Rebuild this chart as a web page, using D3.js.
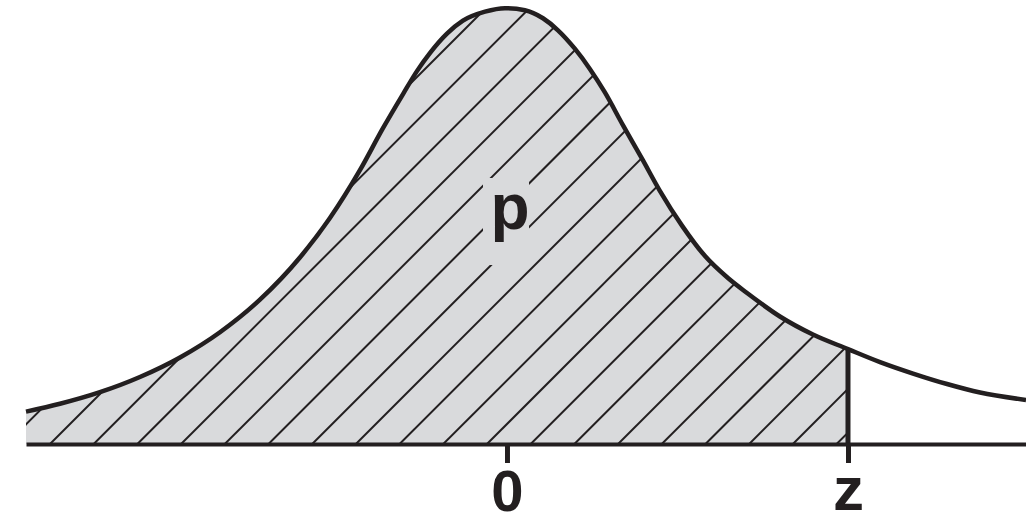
<!DOCTYPE html>
<html>
<head>
<meta charset="utf-8">
<script src="https://cdn.jsdelivr.net/npm/d3@7"></script>
<style>
  html, body { margin: 0; padding: 0; background: #ffffff; }
  svg { display: block; }
</style>
</head>
<body>
<svg id="chart" width="1026" height="515"></svg>
<script>
// Density curve, sampled along the standardized axis
const xValues = [
  -3.526, -3.277, -2.984, -2.691, -2.397, -2.104, -1.811, -1.518, -1.298, -1.078,
  -0.909, -0.762, -0.660, -0.565, -0.440, -0.323, -0.161, -0.015,
   0.132,  0.264,  0.374,  0.499,  0.609,  0.718,  0.850,  0.990,  1.122,  1.283,
   1.452,  1.620,  1.760,  2.001,  2.243,  2.500,  2.735,  2.977,  3.226,  3.468,
   3.805
];
const densityValues = [
  0.0296, 0.0368, 0.0474, 0.0613, 0.0792, 0.1023, 0.1321, 0.1707, 0.2068, 0.2506,
  0.2891, 0.3203, 0.3413, 0.3578, 0.3756, 0.3875, 0.3957, 0.3989,
  0.3971, 0.3897, 0.3787, 0.3616, 0.3431, 0.3218, 0.2919, 0.2612, 0.2315, 0.1999,
  0.1720, 0.1519, 0.1382, 0.1167, 0.1002, 0.0869, 0.0750, 0.0645, 0.0549, 0.0471,
  0.0403
];
// Cut-off value and axis tick labels
const zValue = 2.5;
const tickValues = [0, zValue];
const tickLabels = ["0", "z"];
const areaLabel = "p";

const ink = "#231f20";
const shade = "#d9dadc";

const points = xValues.map((x, i) => ({ x, y: densityValues[i] }));

const svg = d3.select("#chart");

const x = d3.scaleLinear()
  .domain([d3.min(xValues), d3.max(xValues)])
  .range([26, 1026]);
const y = d3.scaleLinear()
  .domain([0, 0.4])
  .range([444, 7]);

const curve = d3.curveMonotoneX;
const area = d3.area().x(d => x(d.x)).y0(y(0)).y1(d => y(d.y)).curve(curve);
const line = d3.line().x(d => x(d.x)).y(d => y(d.y)).curve(curve);

const defs = svg.append("defs");
defs.append("clipPath").attr("id", "under-curve")
  .append("path").attr("d", area(points));
defs.append("clipPath").attr("id", "left-of-z")
  .append("rect")
  .attr("x", x.range()[0]).attr("y", 0)
  .attr("width", x(zValue) - x.range()[0]).attr("height", y(0));

// Shaded region p: everything under the curve left of z
const shaded = svg.append("g").attr("clip-path", "url(#left-of-z)")
  .append("g").attr("clip-path", "url(#under-curve)");

shaded.append("rect")
  .attr("x", 0).attr("y", 0)
  .attr("width", 1026).attr("height", y(0))
  .attr("fill", shade);

// 45° hatching
const hatchStep = 43.7;
const hatchStart = 50;
const hatchRise = 460;
const hatchIdx = d3.range(-12, 22);
shaded.selectAll("line.hatch")
  .data(hatchIdx)
  .join("line")
  .attr("class", "hatch")
  .attr("x1", k => hatchStart + k * hatchStep)
  .attr("y1", y(0))
  .attr("x2", k => hatchStart + k * hatchStep + hatchRise)
  .attr("y2", y(0) - hatchRise)
  .attr("stroke", ink)
  .attr("stroke-width", 2);

// Plain backing behind the "p" label
shaded.append("rect")
  .attr("x", 483).attr("y", 178)
  .attr("width", 46).attr("height", 87)
  .attr("fill", shade);

svg.append("text")
  .attr("x", 510).attr("y", 229)
  .attr("text-anchor", "middle")
  .attr("font-family", "'Liberation Sans', Arial, Helvetica, sans-serif")
  .attr("font-weight", "bold")
  .attr("font-size", 64)
  .attr("fill", ink)
  .text(areaLabel);

// Density curve
svg.append("path")
  .attr("d", line(points))
  .attr("fill", "none")
  .attr("stroke", ink)
  .attr("stroke-width", 4.5)
  .attr("stroke-linejoin", "round");

// Vertical bound at z
const zIndex = xValues.indexOf(zValue);
svg.append("line")
  .attr("x1", x(zValue)).attr("x2", x(zValue))
  .attr("y1", y(densityValues[zIndex])).attr("y2", y(0))
  .attr("stroke", ink)
  .attr("stroke-width", 5);

// Horizontal axis with ticks at 0 and z
const axis = d3.axisBottom(x)
  .tickValues(tickValues)
  .tickFormat((d, i) => tickLabels[i])
  .tickSizeInner(19)
  .tickSizeOuter(0)
  .tickPadding(6);

const axisG = svg.append("g")
  .attr("transform", `translate(0,${y(0)})`)
  .call(axis);

axisG.select(".domain")
  .attr("stroke", ink)
  .attr("stroke-width", 4);
axisG.selectAll(".tick line")
  .attr("stroke", ink)
  .attr("stroke-width", 5);
const labelSizes = [58, 62];
const labelBaselines = [67, 66];
axisG.selectAll(".tick text")
  .attr("fill", ink)
  .attr("font-family", "'Liberation Sans', Arial, Helvetica, sans-serif")
  .attr("font-weight", "bold")
  .attr("font-size", (d, i) => labelSizes[i])
  .attr("dy", null)
  .attr("y", (d, i) => labelBaselines[i]);
</script>
</body>
</html>
